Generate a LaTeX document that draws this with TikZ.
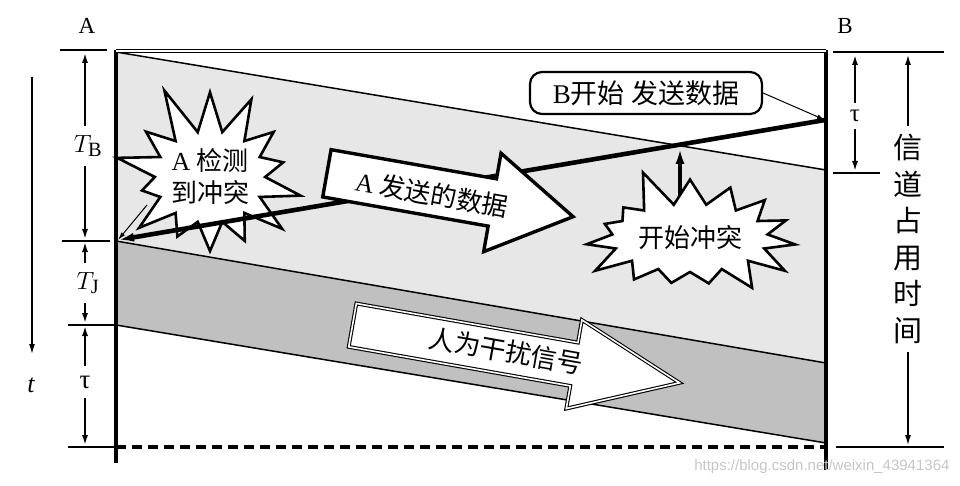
\documentclass[tikz,border=0pt]{standalone}
\usepackage{fontspec}
\setmainfont{Liberation Serif}
\newfontfamily\cjk{Noto Sans CJK SC}
\newfontfamily\wmfont{Liberation Sans}
\usetikzlibrary{positioning, arrows.meta, shapes.symbols}
\definecolor{bandlight}{RGB}{231,231,231}
\definecolor{banddark}{RGB}{192,192,192}

\begin{document}
\begin{tikzpicture}[
  x=1pt, y=-1pt,
  frame/.style={line width=3.2pt, black},
  tick/.style={line width=2.4pt},
  band/.style={draw=black, line width=1.5pt},
  dim/.style={-{Latex[length=11pt, width=6pt]}, line width=2.6pt},
  thinarrow/.style={-{Latex[length=8pt, width=4.5pt]}, line width=1pt},
  dataline/.style={-{Latex[length=16pt, width=9pt]}, line width=4.6pt},
  blockarrow/.style={draw, fill=white, line width=3.4pt, line join=miter},
  jamarrow/.style={draw, fill=white, line width=1.1pt, double, double distance=1.6pt},
  cntext/.style={font=\cjk\fontsize{26}{32}\selectfont, inner sep=2pt},
  burst/.style={starburst, draw, fill=white, line width=2.6pt, align=center,
                font=\cjk\fontsize{26}{32}\selectfont, inner sep=0pt},
  endlbl/.style={font=\fontsize{23}{25}\selectfont},
  dimlbl/.style={font=\fontsize{29}{30}\selectfont, inner sep=9pt}
]
  \useasboundingbox (0,0) rectangle (960,486);

  % channel bands
  \fill[bandlight] (116,52) -- (826,170) -- (826,363) -- (116,241) -- cycle;
  \fill[banddark] (116,241) -- (826,363) -- (826,443) -- (116,325) -- cycle;
  \draw[band] (116,52) -- (826,170);
  \draw[band] (116,241) -- (826,363);
  \draw[band] (116,325) -- (826,443);

  % frame
  \draw[frame] (116,50) -- (116,463);
  \draw[frame] (826,50) -- (826,470);
  \draw[line width=1.1pt, double, double distance=1.6pt] (116,51) -- (826,51);
  \draw[frame, dash pattern=on 10pt off 6pt] (116,447) -- (826,447);

  % ticks
  \draw[tick] (60,50) -- (107,50);
  \draw[tick] (62,241) -- (110,241);
  \draw[tick] (68,325) -- (116,325);
  \draw[tick] (68,447) -- (116,447);
  \draw[tick] (833,52) -- (944,52);
  \draw[tick] (833,173) -- (880,173);
  \draw[tick] (836,447) -- (944,447);

  \node[endlbl] (stA) at (87,26) {A};
  \node[endlbl] (stB) at (845,26) {B};

  % time axis
  \coordinate (ttop) at (32,77);
  \coordinate (tbot) at (32,355);
  \draw[dim, line width=2pt] (ttop) -- (tbot);
  \node[font=\fontsize{26}{28}\selectfont\itshape] (tlbl) at (31,385) {t};

  % left dimensions
  \coordinate (la0) at (85,52);
  \coordinate (la1) at (85,240);
  \coordinate (la2) at (85,324);
  \coordinate (la3) at (85,446);
  \node[dimlbl] (TB) at (88,146) {$T_{\mathrm{B}}$};
  \node[dimlbl] (TJ) at (88,283) {$T_{\mathrm{J}}$};
  \node[dimlbl, font=\fontsize{27}{28}\selectfont] (tauA) at (85,382) {τ};
  \draw[dim] (TB.north -| la0) -- (la0);
  \draw[dim] (TB.south -| la0) -- (la1);
  \draw[dim] (TJ.north -| la1) -- ([yshift=-1pt]la1);
  \draw[dim] (TJ.south -| la1) -- (la2);
  \draw[dim] (tauA.north -| la2) -- ([yshift=-1pt]la2);
  \draw[dim] (tauA.south -| la2) -- (la3);

  % right dimensions
  \coordinate (rb0) at (855,54);
  \coordinate (rb1) at (855,172);
  \node[dimlbl, font=\fontsize{25}{26}\selectfont, inner sep=7pt] (tauB) at (855,116) {τ};
  \draw[dim] (tauB.north) -- (rb0);
  \draw[dim] (tauB.south) -- (rb1);
  \coordinate (rc0) at (908,54);
  \coordinate (rc1) at (908,446);
  \node[cntext, font=\cjk\fontsize{29}{36.5}\selectfont, align=center, inner sep=8pt]
    (occupy) at (908,239) {信\\道\\占\\用\\时\\间};
  \draw[dim, line width=2pt] (occupy.north) -- (rc0);
  \draw[dim, line width=2pt] (occupy.south) -- (rc1);

  % collision detected at A
  \node[burst, minimum width=206pt, minimum height=196pt, starburst points=14,
        starburst point height=52pt, random starburst=11] (burstA) at (210,177)
        {{\rmfamily A}~检测\\到冲突};
  \coordinate (detfoot) at (147,205);

  % key points
  \coordinate (Bsend) at (825,120);
  \coordinate (Adet) at (118,240);
  \coordinate (clash) at (680,148);
  \coordinate (clashfoot) at (680,232);

  \draw[dataline] (Bsend) -- (Adet);
  \draw[thinarrow] (detfoot) -- (Adet);

  % data sent by A
  \begin{scope}[shift={(450,195)}, rotate=-10]
    \draw[blockarrow] (-125,-24) -- (43,-24) -- (43,-50) -- (125,0) -- (43,50) -- (43,24) -- (-125,24) -- cycle;
  \end{scope}
  \node[cntext, rotate=-10] (sendlbl) at (432,194) {{\rmfamily A}~发送的数据};

  % jamming signal
  \begin{scope}[shift={(516,354)}, rotate=-10]
    \draw[jamarrow] (-166,-22) -- (59,-22) -- (59,-45) -- (166,0) -- (59,45) -- (59,22) -- (-166,22) -- cycle;
  \end{scope}
  \node[cntext, rotate=-10] (jamlbl) at (506,351) {人为干扰信号};

  % collision starts
  \draw[dataline, line width=3.6pt] (clashfoot) -- (clash);
  \node[burst, minimum width=236pt, minimum height=148pt, starburst points=15,
        starburst point height=40pt, random starburst=5] (burstB) at (690,238) {开始冲突};

  % B starts sending
  \node[draw, rounded corners=12pt, line width=2.2pt, minimum width=232pt,
        minimum height=42pt, inner sep=2pt, font=\cjk\fontsize{27}{30}\selectfont]
        (Bbox) at (646,93) {{\rmfamily B}开始 发送数据};
  \draw[thinarrow] (Bbox.east) -- (Bsend);

  \node[font=\wmfont\fontsize{15}{16}\selectfont, text=gray!45, anchor=east]
    (wmark) at (953,467) {https://blog.csdn.net/weixin\_43941364};
\end{tikzpicture}
\end{document}
